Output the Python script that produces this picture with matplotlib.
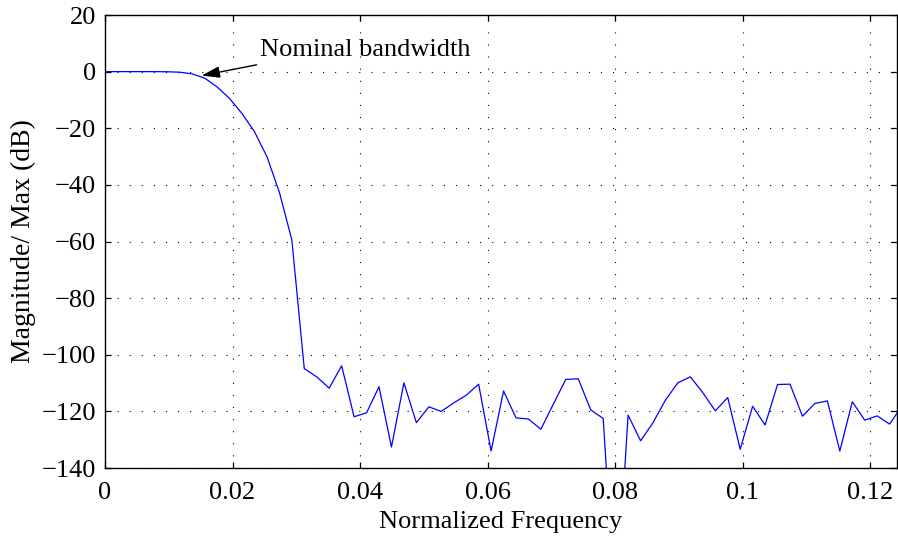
import matplotlib
matplotlib.use("Agg")
import matplotlib.pyplot as plt

# Normalized frequency samples (spacing 1/512)
freq = [0.0, 0.001953125, 0.00390625, 0.005859375, 0.0078125, 0.009765625,
        0.01171875, 0.013671875, 0.015625, 0.017578125, 0.01953125, 0.021484375,
        0.0234375, 0.025390625, 0.02734375, 0.029296875, 0.03125, 0.033203125,
        0.03515625, 0.037109375, 0.0390625, 0.041015625, 0.04296875, 0.044921875,
        0.046875, 0.048828125, 0.05078125, 0.052734375, 0.0546875, 0.056640625,
        0.05859375, 0.060546875, 0.0625, 0.064453125, 0.06640625, 0.068359375,
        0.0703125, 0.072265625, 0.07421875, 0.076171875, 0.078125, 0.080078125,
        0.08203125, 0.083984375, 0.0859375, 0.087890625, 0.08984375, 0.091796875,
        0.09375, 0.095703125, 0.09765625, 0.099609375, 0.1015625, 0.103515625,
        0.10546875, 0.107421875, 0.109375, 0.111328125, 0.11328125, 0.115234375,
        0.1171875, 0.119140625, 0.12109375, 0.123046875, 0.125]

# Magnitude relative to max (dB)
mag_db = [0.0, 0.0, 0.0, 0.0, -0.01, -0.05,
          -0.2, -0.8, -2.3, -5.4, -9.5, -14.8,
          -21.2, -30.0, -42.6, -59.4, -104.9, -107.8,
          -111.8, -103.9, -121.9, -120.5, -111.3, -132.6,
          -109.9, -124.0, -118.4, -120.0, -117.0, -114.3,
          -110.4, -134.0, -112.8, -122.3, -122.7, -126.3,
          -117.4, -108.7, -108.5, -119.5, -122.5, -192.0,
          -121.3, -130.4, -124.0, -116.0, -109.9, -107.8,
          -113.4, -119.8, -115.1, -133.4, -118.2, -124.8,
          -110.5, -110.4, -121.7, -117.2, -116.3, -134.0,
          -116.6, -123.1, -121.6, -124.5, -118.0]

x_ticks = [0, 0.02, 0.04, 0.06, 0.08, 0.1, 0.12]
x_tick_labels = ["0", "0.02", "0.04", "0.06", "0.08", "0.1", "0.12"]
y_ticks = [20, 0, -20, -40, -60, -80, -100, -120, -140]
y_tick_labels = ["20", "0", "\u221220", "\u221240", "\u221260", "\u221280",
                 "\u2212100", "\u2212120", "\u2212140"]

annotation_text = "Nominal bandwidth"

plt.rcParams['font.family'] = ['Liberation Serif', 'DejaVu Serif']
plt.rcParams['lines.scale_dashes'] = False

fig = plt.figure(figsize=(8.98, 5.39), dpi=100)
ax = fig.add_axes([105/898, 1 - 468/539, (897 - 105)/898, (468 - 15)/539])

ax.plot(freq, mag_db, color=(0, 0, 1), linewidth=0.9)

ax.set_xlim(0, 0.1242)
ax.set_ylim(-140, 20)
ax.set_xticks(x_ticks)
ax.set_xticklabels(x_tick_labels)
ax.set_yticks(y_ticks)
ax.set_yticklabels(y_tick_labels)

ax.grid(True, color='black', linestyle=(0, (0.8, 7.9)), linewidth=0.8)
ax.tick_params(direction='in', length=4.5, width=0.9, labelsize=19,
               top=True, right=True, colors='black')
ax.tick_params(axis='x', pad=10)
ax.tick_params(axis='y', pad=6.5)
for s in ax.spines.values():
    s.set_linewidth(1.0)
    s.set_color('black')

ax.set_xlabel("Normalized Frequency", fontsize=19, labelpad=5)
ax.set_ylabel("Magnitude/ Max (dB)", fontsize=20, labelpad=4)

ax.text(0.0243, 7.8, annotation_text, fontsize=19, va='center', ha='left')
ax.annotate("", xy=(0.01516, -1.4), xytext=(0.02378, 2.4),
            arrowprops=dict(arrowstyle='-|>,head_length=1.1,head_width=0.35',
                            color='black', lw=1.0, shrinkA=0, shrinkB=0))

fig.savefig("out.png", dpi=100)
